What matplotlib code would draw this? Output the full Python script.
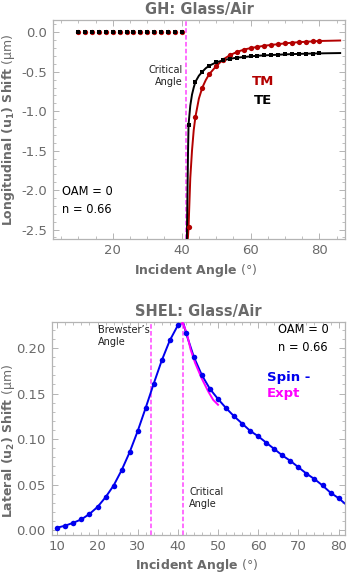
import matplotlib
matplotlib.use("Agg")
import matplotlib.pyplot as plt
from matplotlib.ticker import MultipleLocator

plt.rcParams['font.family'] = ['DejaVu Sans']
plt.rcParams['axes.unicode_minus'] = False
plt.rcParams['mathtext.fontset'] = 'dejavusans'

# ---------------- data: GH (top) ----------------
gh_left_x = list(range(10, 41, 2))
gh_left_tm = [0.0] * len(gh_left_x)
gh_left_te = [0.0] * len(gh_left_x)

gh_x = [42, 44, 46, 48, 50, 52, 54, 56, 58, 60, 62, 64, 66, 68, 70, 72, 74, 76, 78, 80]
gh_tm = [-2.47, -1.07, -0.70, -0.53, -0.43, -0.345, -0.29, -0.25, -0.22, -0.20,
         -0.185, -0.17, -0.16, -0.15, -0.14, -0.132, -0.125, -0.12, -0.115, -0.11]
gh_te = [-1.17, -0.627, -0.50, -0.424, -0.381, -0.356, -0.335, -0.322, -0.313, -0.305,
         -0.297, -0.292, -0.288, -0.284, -0.28, -0.276, -0.274, -0.271, -0.269, -0.267]

tm_curve_x = [41.75, 42.0, 42.5, 43.0, 43.5, 44, 45, 46, 47, 48, 50, 52, 54, 56, 58, 60,
              62, 64, 66, 68, 70, 72, 74, 76, 78, 80, 83, 86]
tm_curve_y = [-2.65, -2.47, -1.85, -1.50, -1.24, -1.07, -0.84, -0.70, -0.605, -0.53, -0.43,
              -0.345, -0.29, -0.25, -0.22, -0.20, -0.185, -0.17, -0.16, -0.15, -0.14,
              -0.132, -0.125, -0.12, -0.115, -0.11, -0.107, -0.104]
te_curve_x = [41.5, 41.7, 41.85, 42.0, 42.5, 43.0, 43.5, 44, 45, 46, 47, 48, 50, 52, 54, 56,
              58, 60, 62, 64, 66, 68, 70, 72, 74, 76, 78, 80, 83, 86]
te_curve_y = [-2.65, -2.0, -1.5, -1.17, -0.93, -0.79, -0.70, -0.627, -0.55, -0.50, -0.455,
              -0.424, -0.381, -0.356, -0.335, -0.322, -0.313, -0.305, -0.297, -0.292,
              -0.288, -0.284, -0.28, -0.276, -0.274, -0.271, -0.269, -0.267, -0.265, -0.263]

# ---------------- data: SHEL (bottom) ----------------
shel_x = list(range(10, 81, 2))
shel_spin = [0.0026, 0.0048, 0.008, 0.0117, 0.0176, 0.0253, 0.036, 0.0488, 0.0657, 0.0855,
             0.1087, 0.1344, 0.161, 0.1865, 0.2085, 0.225, 0.217, 0.19, 0.170, 0.155,
             0.144, 0.134, 0.125, 0.117, 0.109, 0.103, 0.096, 0.089, 0.082, 0.076,
             0.069, 0.062, 0.056, 0.049, 0.041, 0.035]
spin_curve_x = shel_x[:16] + [41.3] + shel_x[16:] + [81.6]
spin_curve_y = shel_spin[:16] + [0.2287] + shel_spin[16:] + [0.029]
expt_x = [40.6, 41.2, 42.2, 43.2, 44.3, 45.9, 47.6, 48.8, 50.0]
expt_y = [0.2255, 0.228, 0.2166, 0.198, 0.1836, 0.167, 0.152, 0.143, 0.1377]

brewster = 33.4
critical = 41.3

# ---------------- style ----------------
GRAY = '#6a6a6a'
FRAME = '#b4b4b4'
RED = '#b30000'
BLUE = '#0000ee'
MAG = '#ff00ff'
DASH = '#ff44ff'


def style_axes(ax):
    for s in ax.spines.values():
        s.set_color(FRAME)
        s.set_linewidth(0.9)
    ax.tick_params(which='both', direction='in', top=True, right=True,
                   color=FRAME, labelcolor=GRAY, labelsize=9.5)
    ax.tick_params(axis='y', which='both', pad=4.5)
    ax.tick_params(axis='x', which='both', pad=3.5)
    ax.tick_params(which='major', length=4, width=0.7)
    ax.tick_params(which='minor', length=2, width=0.6)


fig = plt.figure(figsize=(3.49, 5.73), dpi=100)

# ---------------- top: GH ----------------
ax1 = fig.add_axes([53.3 / 349, 1 - 239 / 573, (345 - 53.3) / 349, 219 / 573])
ax1.axvline(critical, color=DASH, lw=1.1, dashes=(3, 1.5), zorder=1)
ax1.plot(tm_curve_x, tm_curve_y, color=RED, lw=1.4, zorder=2)
ax1.plot(te_curve_x, te_curve_y, color='black', lw=1.4, zorder=3)
ax1.plot(gh_left_x + gh_x, gh_left_tm + gh_tm, 'o', color=RED, ms=3.8, mew=0, zorder=4)
ax1.plot(gh_left_x + gh_x, gh_left_te + gh_te, 's', color='black', ms=2.2, mew=0, zorder=5)
ax1.set_xlim(2.75, 87.4)
ax1.set_ylim(-2.62, 0.156)
ax1.xaxis.set_major_locator(MultipleLocator(20))
ax1.xaxis.set_minor_locator(MultipleLocator(5))
ax1.yaxis.set_major_locator(MultipleLocator(0.5))
ax1.yaxis.set_minor_locator(MultipleLocator(0.1))
ax1.yaxis.set_major_formatter(plt.FuncFormatter(lambda v, p: f'{v:.1f}'))
style_axes(ax1)
ax1.set_title('GH: Glass/Air', fontsize=10.5, fontweight='bold', color=GRAY, pad=4)
ax1.set_xlabel(r'Incident Angle $\mathrm{(°)}$', fontsize=9, fontweight='bold', color=GRAY)
ax1.set_ylabel(r'Longitudinal (u$_\mathbf{1}$) Shift $\mathrm{(\mu m)}$', fontsize=9,
               fontweight='bold', color=GRAY)
ax1.xaxis.set_label_coords(0.49, -0.105)
ax1.yaxis.set_label_coords(-0.124, 0.5)
ax1.text(40.4, -0.555, 'Critical\nAngle', fontsize=7, ha='right', va='center',
         color='#222222', linespacing=1.25)
ax1.text(63.7, -0.627, 'TM', fontsize=9.5, fontweight='bold', color=RED, ha='center', va='center')
ax1.text(63.7, -0.86, 'TE', fontsize=9.5, fontweight='bold', color='black', ha='center', va='center')
ax1.text(5.4, -2.13, 'OAM = 0\nn = 0.66', fontsize=8.3, ha='left', va='center',
         color='black', linespacing=1.5)

# ---------------- bottom: SHEL ----------------
ax2 = fig.add_axes([51.7 / 349, 1 - 535 / 573, (345 - 51.7) / 349, 213.3 / 573])
ax2.axvline(brewster, color=DASH, lw=1.1, dashes=(3, 1.5), zorder=1)
ax2.axvline(critical, color=DASH, lw=1.1, dashes=(3, 1.5), zorder=1)
ax2.plot(spin_curve_x, spin_curve_y, color=BLUE, lw=1.4, zorder=2)
ax2.plot(expt_x, expt_y, color=MAG, lw=1.4, zorder=3)
ax2.plot(shel_x, shel_spin, 'o', color=BLUE, ms=4.0, mew=0, zorder=4)
ax2.set_xlim(8.6, 81.6)
ax2.set_ylim(-0.0055, 0.229)
ax2.xaxis.set_major_locator(MultipleLocator(10))
ax2.xaxis.set_minor_locator(MultipleLocator(2))
ax2.yaxis.set_major_locator(MultipleLocator(0.05))
ax2.yaxis.set_minor_locator(MultipleLocator(0.01))
ax2.yaxis.set_major_formatter(plt.FuncFormatter(lambda v, p: f'{v:.2f}'))
style_axes(ax2)
ax2.set_title('SHEL: Glass/Air', fontsize=10.5, fontweight='bold', color=GRAY, pad=4)
ax2.set_xlabel(r'Incident Angle $\mathrm{(°)}$', fontsize=9, fontweight='bold', color=GRAY)
ax2.set_ylabel(r'Lateral (u$_\mathbf{2}$) Shift $\mathrm{(\mu m)}$', fontsize=9,
               fontweight='bold', color=GRAY)
ax2.xaxis.set_label_coords(0.494, -0.103)
ax2.yaxis.set_label_coords(-0.118, 0.44)
ax2.text(20.05, 0.213, 'Brewster\u2019s\nAngle', fontsize=7, ha='left', va='center',
         color='#222222', linespacing=1.25)
ax2.text(42.8, 0.035, 'Critical\nAngle', fontsize=7, ha='left', va='center',
         color='#222222', linespacing=1.25)
ax2.text(65.0, 0.211, 'OAM = 0\nn = 0.66', fontsize=8.3, ha='left', va='center',
         color='black', linespacing=1.5)
ax2.text(62.1, 0.168, 'Spin -', fontsize=9.5, fontweight='bold', color=BLUE, ha='left', va='center')
ax2.text(62.1, 0.150, 'Expt', fontsize=9.5, fontweight='bold', color=MAG, ha='left', va='center')

fig.savefig('out.png', dpi=100)
